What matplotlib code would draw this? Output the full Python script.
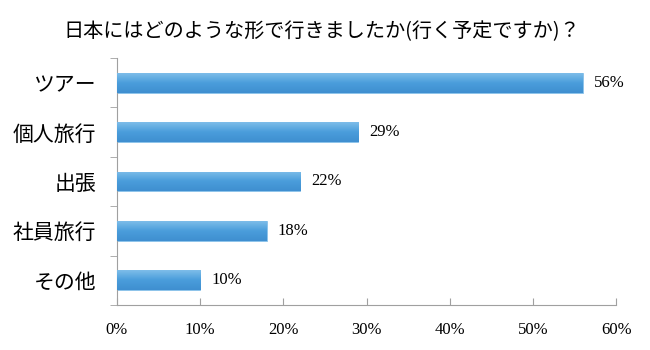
import matplotlib.pyplot as plt
import numpy as np

plt.rcParams['font.family'] = ['Noto Sans CJK JP', 'DejaVu Sans']

categories = ["ツアー", "個人旅行", "出張", "社員旅行", "その他"]
values = [56, 29, 22, 18, 10]
xticks = [0, 10, 20, 30, 40, 50, 60]
title = "日本にはどのような形で行きましたか(行く予定ですか)？"


def main():
    fig = plt.figure(figsize=(6.5, 3.5), dpi=100)
    ax = fig.add_axes([0.18, 0.129, 0.768, 0.705])

    y = np.arange(len(categories))
    bars = ax.barh(y, values, height=0.4, color="#4a9ddb",
                   edgecolor="#8cc3ea", linewidth=0.6, zorder=2)

    # soft vertical gradient on each bar
    grad = np.linspace(0, 1, 50).reshape(-1, 1)
    cmap = plt.matplotlib.colors.LinearSegmentedColormap.from_list(
        "b", ["#7dbde9", "#4a9ddb", "#3f8fd0"])
    for b in bars:
        x0, y0 = b.get_x(), b.get_y()
        w, h = b.get_width(), b.get_height()
        im = ax.imshow(grad, extent=[x0, x0 + w, y0 + h, y0], aspect="auto",
                       cmap=cmap, zorder=3)
        im.set_clip_path(b)

    for yi, v in zip(y, values):
        ax.text(v + 1.3, yi, f"{v}%", va="center", ha="left",
                fontsize=12, family="Liberation Serif")

    ax.set_xlim(0, 60)
    ax.set_ylim(len(categories) - 0.5, -0.5)
    ax.set_xticks(xticks)
    ax.set_xticklabels([f"{t}%" for t in xticks], fontsize=12,
                       family="Liberation Serif")
    ax.set_yticks(y)
    ax.set_yticklabels(categories, fontsize=15)
    ax.tick_params(axis="y", length=0, pad=15)
    ax.set_yticks(np.arange(len(categories) + 1) - 0.5, minor=True)
    ax.tick_params(axis="y", which="minor", length=5, color="#a0a0a0",
                   direction="out")
    ax.tick_params(axis="x", length=5, color="#a0a0a0", direction="in",
                   pad=12)

    for s in ["top", "right"]:
        ax.spines[s].set_visible(False)
    for s in ["left", "bottom"]:
        ax.spines[s].set_color("#a0a0a0")

    fig.text(0.495, 0.91, title, ha="center", va="center", fontsize=14.5)

    plt.savefig("out.png", dpi=100)


main()
